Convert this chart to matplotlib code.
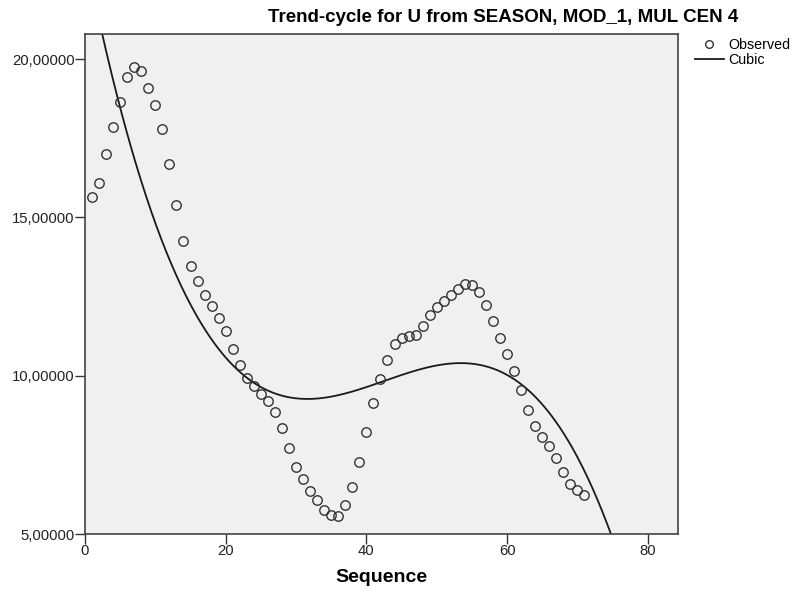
import numpy as np
import matplotlib
matplotlib.use("Agg")
import matplotlib.pyplot as plt
from matplotlib.lines import Line2D

plt.rcParams['font.family'] = ['Liberation Sans', 'DejaVu Sans']

sequence = list(range(1, 72))
observed = [15.65, 16.09, 17.01, 17.85, 18.64, 19.42, 19.76, 19.61, 19.10, 18.54,
            17.80, 16.69, 15.39, 14.24, 13.47, 12.98, 12.56, 12.19, 11.82, 11.42,
            10.84, 10.33, 9.92, 9.66, 9.42, 9.19, 8.86, 8.34, 7.72, 7.12,
            6.73, 6.37, 6.08, 5.76, 5.59, 5.57, 5.93, 6.47, 7.28, 8.21,
            9.14, 9.90, 10.50, 10.99, 11.20, 11.25, 11.28, 11.56, 11.91, 12.18,
            12.36, 12.56, 12.75, 12.89, 12.85, 12.64, 12.23, 11.72, 11.18, 10.67,
            10.15, 9.54, 8.91, 8.40, 8.06, 7.79, 7.39, 6.95, 6.59, 6.38, 6.23]
x_ticks = [0, 20, 40, 60, 80]
y_ticks = [5, 10, 15, 20]
y_tick_labels = ["5,00000", "10,00000", "15,00000", "20,00000"]
title = "Trend-cycle for U from SEASON, MOD_1, MUL CEN 4"

coef = np.polyfit(sequence, observed, 3)
xs = np.linspace(0, 84.3, 600)
ys = np.polyval(coef, xs)

fig = plt.figure(figsize=(7.96, 5.92), dpi=100)
ax = fig.add_axes([85/796, 1-534/592, (678-85)/796, (534-34)/592])
ax.set_facecolor('#F0F0F0')

ax.plot(xs, ys, color='#1a1a1a', lw=1.3, zorder=2)
ax.plot(sequence, observed, linestyle='none', marker='o', markersize=6.8,
        markerfacecolor='none', markeredgecolor='#333333', markeredgewidth=1.0, zorder=3)

ax.set_xlim(0, 84.3)
ax.set_ylim(5, 20.79)
ax.set_xticks(x_ticks)
ax.set_yticks(y_ticks)
ax.set_yticklabels(y_tick_labels)
ax.tick_params(direction='out', length=7, width=1, colors='#333333', labelsize=10.7,
               labelcolor='#222222', pad=0.5)
for s in ax.spines.values():
    s.set_color('#444444')
    s.set_linewidth(1.2)

fig.text(381/796, 1-578/592, "Sequence", ha='center', va='center', fontsize=14, fontweight='bold')
fig.text(503/796, 1-17/592, title, ha='center', va='center', fontsize=13.5, fontweight='bold')

handles = [Line2D([], [], linestyle='none', marker='o', markersize=5.5, markerfacecolor='none',
                  markeredgecolor='#333333', markeredgewidth=1.0),
           Line2D([], [], color='#1a1a1a', lw=1.3)]
fig.legend(handles, ["Observed", "Cubic"], loc='upper left', bbox_to_anchor=(695/796, 1-38/592),
           frameon=False, fontsize=10.3, handlelength=2.0, handletextpad=0.3,
           labelspacing=0.1, borderpad=0, borderaxespad=0)

fig.savefig("out.png", dpi=100)
